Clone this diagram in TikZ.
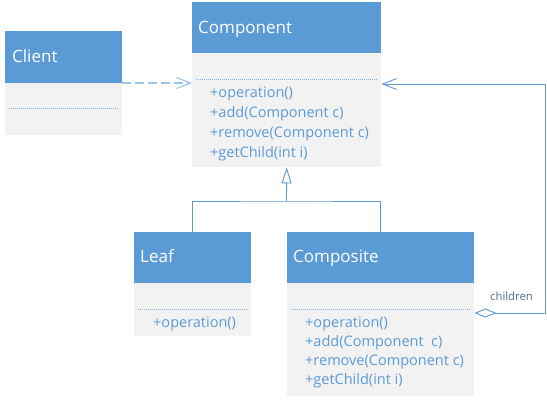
\documentclass[tikz,border=0pt]{standalone}
\usepackage{fontspec}
\setmainfont{Open Sans}
\usetikzlibrary{arrows.meta}
\definecolor{hdr}{HTML}{5B9BD5}
\definecolor{bodyfill}{HTML}{F2F2F2}
\definecolor{txt}{HTML}{5B9BD5}
\definecolor{ln}{HTML}{5B9BD5}
\definecolor{dashc}{HTML}{9DC3E6}
\definecolor{dotc}{HTML}{7FAEE0}
\definecolor{lbl}{HTML}{4E6E8E}
\begin{document}
\begin{tikzpicture}[x=1pt,y=-1pt,
  head/.style={fill=hdr, draw=none, anchor=north west, inner sep=0pt, minimum height=52pt},
  bodybox/.style={fill=bodyfill, draw=none, anchor=north west, inner sep=0pt},
  htext/.style={anchor=base west, inner sep=0pt, text=white, font=\fontsize{17}{20}\selectfont},
  mtext/.style={anchor=base west, inner sep=0pt, text=txt, font=\fontsize{14.5}{19}\selectfont},
  sep/.style={draw=dotc, line width=1pt, dash pattern=on 1.2pt off 0.8pt},
  conn/.style={draw=ln, line width=0.9pt},
  depline/.style={draw=dashc, line width=1.1pt, dash pattern=on 9pt off 4pt},
]
\useasboundingbox (0,0) rectangle (547,401);
\fill[white] (0,0) rectangle (547,401);

% Client
\node[head, minimum width=117pt] (clienthead) at (5,31) {};
\node[bodybox, minimum width=117pt, minimum height=52pt] (clientbody) at (5,83) {};
\node[htext] (clientname) at (12,63) {Client};
\draw[sep] ([xshift=4pt,yshift=-26pt]clientbody.north west) -- ([xshift=-4pt,yshift=-26pt]clientbody.north east);

% Component
\node[head, minimum width=189pt, minimum height=51pt] (comphead) at (192,2) {};
\node[bodybox, minimum width=189pt, minimum height=114pt] (compbody) at (192,53) {};
\node[htext] (compname) at (198,34) {Component};
\draw[sep] ([xshift=4pt,yshift=-27pt]compbody.north west) -- ([xshift=-4pt,yshift=-27pt]compbody.north east);
\node[mtext] (cop1) at (210,98) {+operation()};
\node[mtext] (cop2) at (210,118) {+add(Component c)};
\node[mtext] (cop3) at (210,138) {+remove(Component c)};
\node[mtext] (cop4) at (210,158) {+getChild(int i)};

% Leaf
\node[head, minimum width=117pt, minimum height=51pt] (leafhead) at (134,232) {};
\node[bodybox, minimum width=117pt, minimum height=53pt] (leafbody) at (134,283) {};
\node[htext] (leafname) at (140,263) {Leaf};
\draw[sep] ([xshift=4pt,yshift=-27pt]leafbody.north west) -- ([xshift=-4pt,yshift=-27pt]leafbody.north east);
\node[mtext] (lop1) at (153,327) {+operation()};

% Composite
\node[head, minimum width=187pt, minimum height=51pt] (cmphead) at (287,232) {};
\node[bodybox, minimum width=187pt, minimum height=113pt] (cmpbody) at (287,283) {};
\node[htext] (cmpname) at (293,263) {Composite};
\draw[sep] ([xshift=4pt,yshift=-27pt]cmpbody.north west) -- ([xshift=-4pt,yshift=-27pt]cmpbody.north east);
\node[mtext] (mop1) at (305,327) {+operation()};
\node[mtext] (mop2) at (305,346) {+add(Component\ \ c)};
\node[mtext] (mop3) at (305,365) {+remove(Component c)};
\node[mtext] (mop4) at (305,384) {+getChild(int i)};

% dependency Client -> Component
\draw[depline, -{Straight Barb[length=14pt,width=11pt]}] (clientbody.north east) -- (clientbody.north east -| compbody.west);

% generalization
\coordinate (gen) at (286.5,201);
\draw[conn] (leafhead.north) |- (gen) -| (cmphead.north);
\draw[conn, -{Triangle[open, length=16pt, width=10pt, fill=white]}] (gen) -- (compbody.south);

% aggregation Composite -> Component
\coordinate (aggcorner) at (545,313);
\draw[conn, {Diamond[open, length=22pt, width=9pt, fill=white]}-{Straight Barb[length=14pt,width=11pt]}]
  ([yshift=-30pt]cmpbody.north east) -- (aggcorner) |- ([yshift=-31pt]compbody.north east);
\node[anchor=base west, inner sep=0pt, text=lbl, font=\fontsize{11.3}{13}\selectfont] (childlbl) at (490,300.5) {children};
\end{tikzpicture}
\end{document}
